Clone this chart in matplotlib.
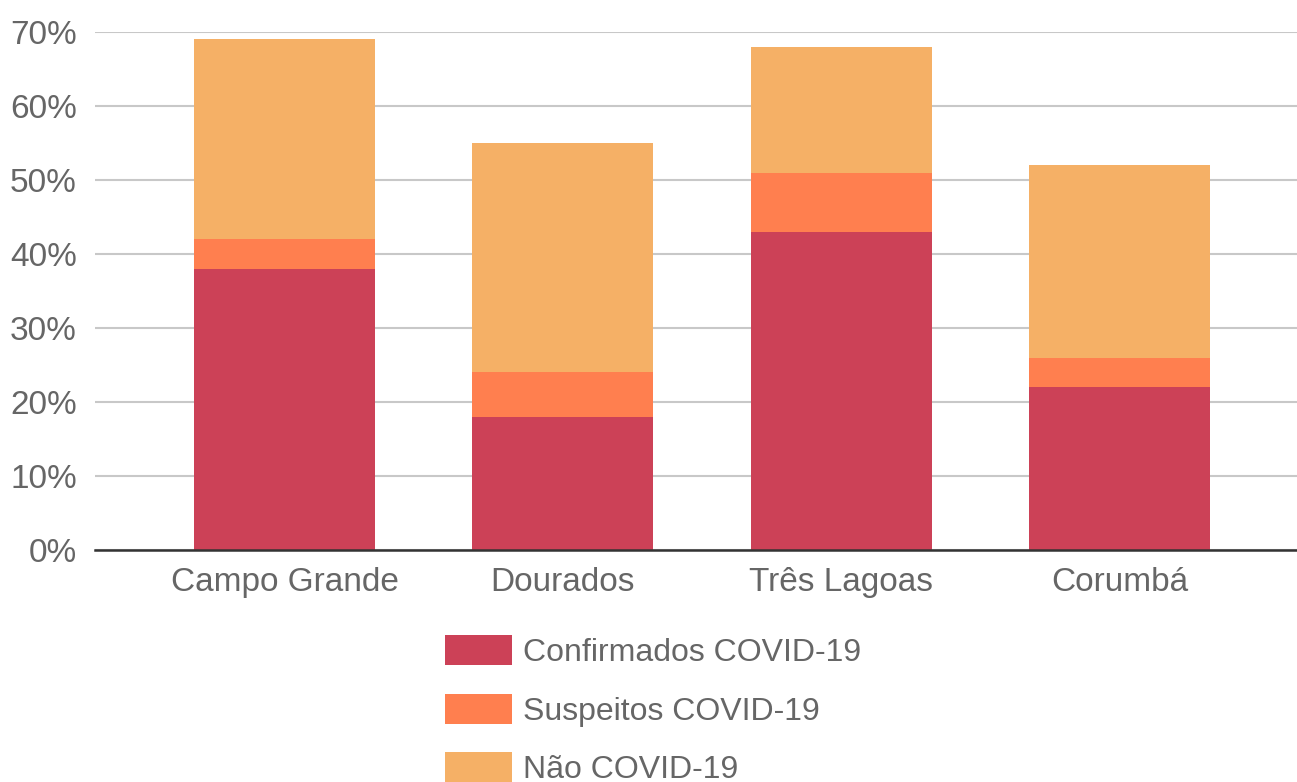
import matplotlib.pyplot as plt
import numpy as np

plt.rcParams['font.family'] = ['Liberation Sans', 'DejaVu Sans']

cidades = ['Campo Grande', 'Dourados', 'Três Lagoas', 'Corumbá']
confirmados = [38, 18, 43, 22]
suspeitos = [4, 6, 8, 4]
nao_covid = [27, 31, 17, 26]

series = ['Confirmados COVID-19', 'Suspeitos COVID-19', 'Não COVID-19']
cores = ['#CC4157', '#FF7F4F', '#F5B066']
yticks = [0, 10, 20, 30, 40, 50, 60, 70]

fig = plt.figure(figsize=(12.97, 7.82), dpi=100)
ax = fig.add_axes([95 / 1297, 1 - 550 / 782, 1 - 95 / 1297, 518 / 782])

x = np.arange(len(cidades))
base = np.zeros(len(cidades))
for vals, cor, nome in zip([confirmados, suspeitos, nao_covid], cores, series):
    ax.bar(x, vals, bottom=base, width=0.65, color=cor, label=nome, zorder=3)
    base += np.array(vals)

ax.set_xlim(-0.681, 3.638)
ax.set_ylim(0, 70)
ax.set_yticks(yticks)
ax.set_yticklabels([f'{v}%' for v in yticks])
ax.set_xticks(x)
ax.set_xticklabels(cidades)
ax.grid(axis='y', color='#c8c8c8', linewidth=1.5, zorder=0)
for s in ['top', 'right', 'left']:
    ax.spines[s].set_visible(False)
ax.spines['bottom'].set_color('#333333')
ax.spines['bottom'].set_linewidth(1.8)
ax.spines['bottom'].set_zorder(4)
ax.tick_params(axis='both', length=0, labelsize=24, labelcolor='#666666')
ax.tick_params(axis='x', pad=12)
ax.tick_params(axis='y', pad=13)

leg = fig.legend(loc='upper left', bbox_to_anchor=(432 / 1297, 1 - 622 / 782),
                 frameon=False, fontsize=23, labelcolor='#666666',
                 handlelength=2.1, handleheight=1.1, labelspacing=0.8,
                 handletextpad=0.34, borderaxespad=0)

fig.savefig('out.png', dpi=100)
